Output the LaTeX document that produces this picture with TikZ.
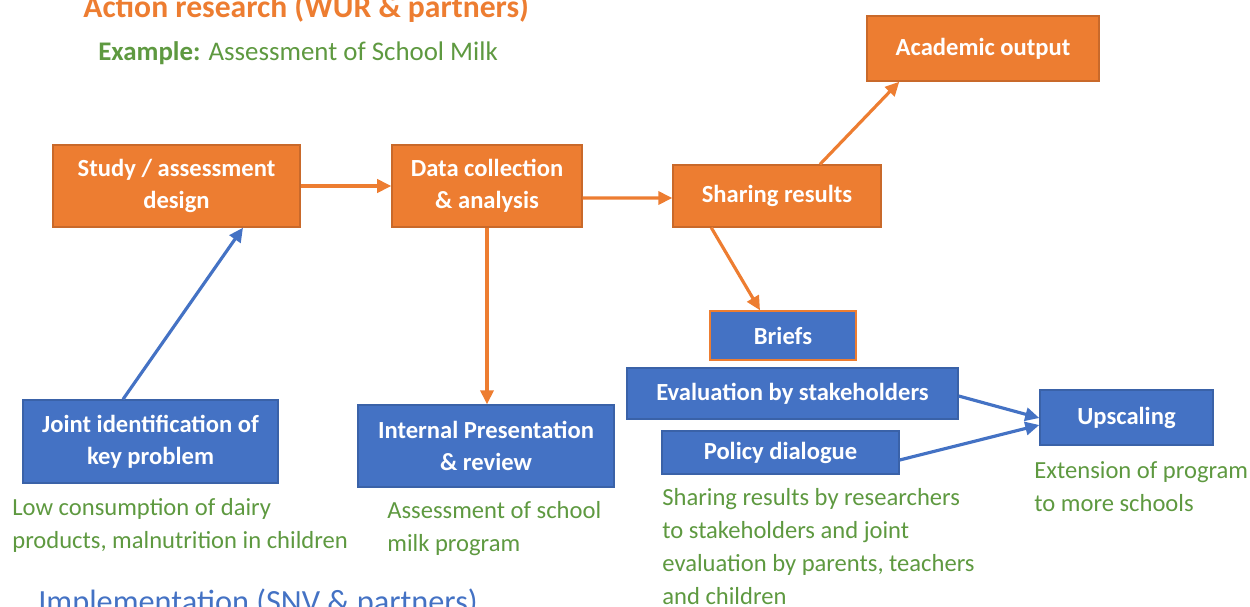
\documentclass[tikz,border=0pt]{standalone}
\usepackage{fontspec}
\setmainfont{Carlito}
\usetikzlibrary{arrows.meta}

\definecolor{wurorange}{HTML}{ED7D31}
\definecolor{wurorangedark}{HTML}{C9692A}
\definecolor{snvblue}{HTML}{4472C4}
\definecolor{snvbluedark}{HTML}{3A62A8}
\definecolor{notegreen}{HTML}{5E9940}

\begin{document}
\begin{tikzpicture}[x=0.02cm, y=-0.02cm, >={Triangle[length=8pt, width=7.5pt]},
  box/.style 2 args={draw, inner sep=0pt, align=center, text=white,
    minimum width=#1*0.02cm, minimum height=#2*0.02cm,
    font=\fontsize{14pt}{18pt}\selectfont\bfseries, line width=0.8pt},
  research/.style={fill=wurorange, draw=wurorangedark},
  practice/.style={fill=snvblue, draw=snvbluedark},
  note/.style={anchor=north west, inner sep=0pt, align=left, text=notegreen,
    font=\fontsize{14pt}{18.7pt}\selectfont},
  flow/.style={->, line width=1.8pt, wurorange},
  link/.style={->, line width=1.8pt, snvblue}]
\clip (0,0) rectangle (1250,606);

% headings
\node[anchor=base west, inner sep=0pt, text=wurorange, font=\fontsize{18pt}{20pt}\selectfont\bfseries] (top) at (83,17) {Action research (WUR \& partners)};
\node[anchor=base west, inner sep=0pt, text=notegreen, font=\fontsize{15.3pt}{17pt}\selectfont] (ex) at (98,60) {\textbf{Example:} Assessment of School Milk};
\node[anchor=base west, inner sep=0pt, text=snvblue, font=\fontsize{18.4pt}{20pt}\selectfont] (bottom) at (38,612) {Implementation (SNV \& partners)};

% research boxes
\node[box={247}{82}, research] (study) at (176.5,186) {Study / assessment\\design};
\node[box={190}{82}, research] (data) at (487,186) {Data collection\\\& analysis};
\node[box={208}{62}, research] (share) at (777,196) {Sharing results};
\node[box={232}{65}, research] (acad) at (983,48.5) {Academic output};

% implementation boxes
\node[box={146}{49}, fill=snvblue, draw=wurorange] (briefs) at (783,335.5) {Briefs};
\node[box={331}{51}, practice] (eval) at (792.5,393.5) {Evaluation by stakeholders};
\node[box={237}{43}, practice] (policy) at (780.5,452.5) {Policy dialogue};
\node[box={173}{55}, practice] (up) at (1126.5,417.5) {Upscaling};
\node[box={255}{83}, practice] (joint) at (150.5,441.5) {Joint identification of\\key problem};
\node[box={256}{82}, practice] (intern) at (486,446) {Internal Presentation\\\& review};

% notes under the boxes
\node[note] (n1) at (12,498) {Low consumption of dairy\\products, malnutrition in children};
\node[note] (n2) at (387,501) {Assessment of school\\milk program};
\node[note] (n3) at (662,488) {Sharing results by researchers\\to stakeholders and joint\\evaluation by parents, teachers\\and children};
\node[note] (n4) at (1034,461) {Extension of program\\to more schools};

% orange flow
\draw[flow] (study.east) -- (data.west);
\draw[flow] ([yshift=-0.24cm]data.east) -- ([yshift=-0.04cm]share.west);
\draw[flow] ([xshift=0.86cm]share.north) -- ([xshift=0.66cm]acad.south west);
\draw[flow] ([xshift=0.78cm]share.south west) -- ([xshift=-0.46cm]briefs.north);
\draw[flow] (data.south) -- (data.south |- intern.north);

% blue links
\draw[link] ([xshift=-0.55cm]joint.north) -- ([xshift=1.33cm]study.south);
\draw[link] ([yshift=-0.05cm]eval.east) -- ([yshift=-0.01cm]up.west);
\draw[link] ([yshift=-0.15cm]policy.east) -- ([yshift=-0.15cm]up.west);
\end{tikzpicture}
\end{document}
